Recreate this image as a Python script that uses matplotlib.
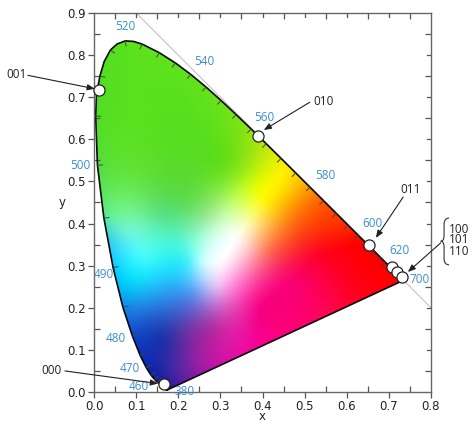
import numpy as np
import matplotlib
matplotlib.use('Agg')
import matplotlib.pyplot as plt
from matplotlib.patches import Polygon, PathPatch
from matplotlib.path import Path
from matplotlib.ticker import MultipleLocator

# spectral locus, 5 nm steps plus a few extra points round the top bend
wavelengths = [380, 385, 390, 395, 400, 405, 410, 415, 420, 425, 430, 435, 440, 445, 450, 455, 460, 465,
               470, 475, 480, 485, 490, 495, 500, 505, 507.5, 510, 512.5, 515, 517.5, 520, 522.5, 525,
               530, 535, 540, 545, 550, 555, 560, 565, 570, 575, 580, 585, 590, 595, 600, 605, 610, 615,
               620, 625, 630, 635, 640, 645, 650, 655, 660, 665, 670, 675, 680, 700]
locus_x = [.1741, .1740, .1738, .1736, .1733, .1730, .1726, .1721, .1714, .1703,
           .1689, .1669, .1644, .1611, .1566, .1510, .1440, .1355, .1241, .1096,
           .0913, .0687, .0454, .0235, .0082, .0039, .0058, .0139, .0242, .0389, .0550, .0743, .0940, .1142,
           .1547, .1929, .2296, .2658, .3016, .3373, .3731, .4087, .4441, .4788,
           .5125, .5448, .5752, .6029, .6270, .6482, .6658, .6801, .6915, .7006,
           .7079, .7140, .7190, .7230, .7260, .7283, .7300, .7311, .7320, .7327,
           .7334, .7347]
locus_y = [.0050, .0050, .0049, .0049, .0048, .0048, .0048, .0048, .0051, .0058,
           .0069, .0086, .0109, .0138, .0177, .0227, .0297, .0399, .0578, .0868,
           .1327, .2007, .2950, .4127, .5384, .6548, .7040, .7502, .7848, .8120, .8265, .8338, .8325, .8262,
           .8059, .7816, .7543, .7243, .6923, .6589, .6245, .5896, .5547, .5202,
           .4866, .4544, .4242, .3965, .3725, .3514, .3340, .3197, .3083, .2993,
           .2920, .2859, .2809, .2770, .2740, .2717, .2700, .2689, .2680, .2673,
           .2666, .2653]

# colours at some places inside the horseshoe
field_x = [.309, .340, .372, .404, .435, .372, .317, .237, .237, .277, .158, .079, .119, .222, .255,
           .095, .158, .237, .293, .332, .356, .411, .475, .538, .538, .475, .554, .396, .356, .277,
           .222, .158, .095, .150, .190, .261, .340, .080, .200, .050, .300, .020, .040, .620, .700,
           .600, .550, .500, .450, .600, .500, .130, .120, .030, .170]
field_y = [.321, .369, .409, .464, .535, .535, .535, .543, .440, .409, .424, .385, .321, .305, .305,
           .266, .234, .234, .250, .258, .290, .345, .424, .409, .321, .266, .240, .200, .170, .155,
           .140, .125, .190, .060, .053, .085, .115, .800, .720, .600, .620, .500, .420, .350, .280,
           .390, .440, .480, .520, .240, .180, .100, .700, .350, .030]
field_r = [255, 255, 250, 255, 240, 170, 110, 90, 110, 170, 90, 110, 70, 70, 190,
           10, 40, 100, 230, 255, 255, 255, 255, 255, 255, 250, 255, 245, 235, 170,
           110, 25, 30, 25, 70, 170, 230, 90, 90, 90, 100, 90, 100, 255, 255,
           255, 255, 255, 255, 255, 255, 20, 90, 40, 40]
field_g = [255, 255, 250, 250, 240, 235, 225, 220, 225, 240, 225, 245, 250, 235, 250,
           220, 160, 150, 190, 140, 150, 130, 130, 70, 0, 0, 0, 0, 30, 50,
           50, 50, 120, 40, 40, 30, 20, 225, 225, 225, 225, 225, 240, 0, 0,
           40, 80, 160, 240, 0, 0, 50, 225, 200, 30]
field_b = [255, 245, 150, 0, 0, 20, 25, 40, 100, 170, 130, 210, 250, 250, 255,
           250, 240, 240, 240, 220, 200, 90, 10, 0, 40, 110, 70, 130, 160, 165,
           165, 170, 225, 170, 165, 165, 165, 30, 30, 40, 25, 80, 150, 0, 0,
           0, 0, 0, 0, 40, 110, 180, 30, 240, 160]

nm_labels = ['520', '540', '560', '580', '600', '620', '700', '500', '490', '480', '470', '460', '380']
nm_label_x = [.075, .262, .404, .548, .662, .726, .774, -.033, .024, .052, .085, .107, .214]
nm_label_y = [.867, .784, .653, .513, .401, .335, .266, .537, .278, .128, .055, .014, .002]

point_x = [.013, .390, .654, .708, .720, .732, .165]
point_y = [.717, .608, .349, .298, .286, .272, .020]

code_labels = ['001', '010', '011', '000']
code_text_x = [-.185, .546, .752, -.100]
code_text_y = [.753, .690, .482, .052]
code_tip_x = [.002, .403, .669, .152]
code_tip_y = [.720, .622, .366, .020]
code_start_x = [-.157, .512, .734, -.069]
code_start_y = [.752, .688, .463, .050]

fig = plt.figure(figsize=(4.74, 4.24), dpi=100)
ax = fig.add_axes([94 / 474, 1 - 392 / 424, 337 / 474, 379 / 424])
plt.rcParams['font.family'] = ['Open Sans', 'DejaVu Sans']
ax.set_xlim(0, 0.8)
ax.set_ylim(0, 0.9)

lx = np.array(locus_x)
ly = np.array(locus_y)

# colour field: thin plate spline through the sampled colours
def tps(r):
    return r ** 2 * np.log(r + 1e-9)

gx, gy = np.meshgrid(np.linspace(0, 0.8, 320), np.linspace(0, 0.9, 360))
fx = np.array(field_x)
fy = np.array(field_y)
fc = np.array([field_r, field_g, field_b], dtype=float).T / 255
k = len(fx)
A = tps(np.hypot(fx[:, None] - fx, fy[:, None] - fy)) + 1e-4 * np.eye(k)
P = np.column_stack([np.ones(k), fx, fy])
M = np.block([[A, P], [P.T, np.zeros((3, 3))]])
coef = np.linalg.solve(M, np.vstack([fc, np.zeros((3, 3))]))
G = tps(np.hypot(gx[..., None] - fx, gy[..., None] - fy))
G = np.concatenate([G, np.ones_like(gx)[..., None], gx[..., None], gy[..., None]], axis=2)
rgb = np.clip(G @ coef, 0, 1)
im = ax.imshow(rgb, origin='lower', extent=(0, 0.8, 0, 0.9), aspect='auto',
               interpolation='bicubic', zorder=1)
gamut = Polygon(np.column_stack([lx, ly]), closed=True, fc='none', ec='none', transform=ax.transData)
ax.add_patch(gamut)
im.set_clip_path(gamut)

# x + y = 1 guide
ax.plot([0.1, 0.8], [0.9, 0.2], color='#c4c4c4', lw=0.8, zorder=0.5)

ax.plot(np.append(lx, lx[0]), np.append(ly, ly[0]), color='#0a0a0a', lw=1.2, zorder=2)

# wavelength ticks, normal to the locus
for i, nm in enumerate(wavelengths):
    if nm < 445 or nm > 625 or nm % 5 != 0:
        continue
    tx = lx[i + 1] - lx[i - 1]
    ty = ly[i + 1] - ly[i - 1]
    n = np.hypot(tx, ty)
    nx, ny = ty / n, -tx / n
    ax.plot([lx[i], lx[i] + nx * 0.012], [ly[i], ly[i] + ny * 0.012], color='#444444', lw=0.7, zorder=2)

for t, x, y in zip(nm_labels, nm_label_x, nm_label_y):
    ax.text(x, y, t, color='#3b8fcf', fontsize=8.5, ha='center', va='center', zorder=5, clip_on=False)

ax.plot(point_x, point_y, 'o', ms=8, mfc='white', mec='#222222', mew=0.9, zorder=4, clip_on=False)

arrow = dict(arrowstyle='-|>,head_length=0.45,head_width=0.18', color='#222222', lw=0.8, shrinkA=0, shrinkB=0)
for t, tx, ty, sx, sy, ex, ey in zip(code_labels, code_text_x, code_text_y, code_start_x, code_start_y,
                                     code_tip_x, code_tip_y):
    ax.text(tx, ty, t, color='#222222', fontsize=8.5, ha='center', va='center', clip_on=False)
    ax.annotate('', xy=(ex, ey), xytext=(sx, sy), annotation_clip=False, zorder=6, arrowprops=arrow)

# brace for the three red points
bx = 0.831
verts = [(bx + .012, .413), (bx, .413), (bx, .398), (bx, .372), (bx, .358), (bx - .008, .358),
         (bx, .358), (bx, .344), (bx, .317), (bx, .302), (bx + .012, .302)]
codes = [Path.MOVETO, Path.CURVE3, Path.CURVE3, Path.LINETO, Path.CURVE3, Path.CURVE3,
         Path.CURVE3, Path.CURVE3, Path.LINETO, Path.CURVE3, Path.CURVE3]
ax.add_patch(PathPatch(Path(verts, codes), fc='none', ec='#333333', lw=0.8, clip_on=False))
ax.annotate('', xy=(.745, .285), xytext=(.823, .354), annotation_clip=False, zorder=6, arrowprops=arrow)
for t, y in zip(['100', '101', '110'], [.387, .361, .333]):
    ax.text(.843, y, t, color='#222222', fontsize=8.5, ha='left', va='center', clip_on=False)

ax.xaxis.set_major_locator(MultipleLocator(0.1))
ax.yaxis.set_major_locator(MultipleLocator(0.1))
ax.xaxis.set_minor_locator(MultipleLocator(0.05))
ax.yaxis.set_minor_locator(MultipleLocator(0.05))
ax.tick_params(which='major', direction='out', length=4, width=0.9, color='#555555', labelsize=8.5,
               labelcolor='#222222', pad=2)
ax.tick_params(which='minor', direction='in', length=4, width=0.9, color='#555555', top=True, right=True)
ax.set_xticks(np.arange(0, 0.81, 0.1), [f'{v:.1f}' for v in np.arange(0, 0.81, 0.1)])
ax.set_yticks(np.arange(0, 0.91, 0.1), [f'{v:.1f}' for v in np.arange(0, 0.91, 0.1)])
for s in ax.spines.values():
    s.set_color('#666666')
    s.set_linewidth(1.0)

# right and top ticks are all inward
for v in np.arange(0.1, 0.8, 0.1):
    ax.plot([v, v], [0.9, 0.89], color='#555555', lw=0.9, zorder=3)
for v in np.arange(0.1, 0.9, 0.1):
    ax.plot([0.8, 0.79], [v, v], color='#555555', lw=0.9, zorder=3)

ax.set_xlabel('x', fontsize=8.5, color='#222222', labelpad=0)
ax.set_ylabel('y', fontsize=8.5, color='#222222', rotation=0, labelpad=0, va='center')
ax.yaxis.set_label_coords(-0.095, 0.501)
ax.xaxis.set_label_coords(0.5, -0.047)

fig.savefig('out.png', dpi=100)
